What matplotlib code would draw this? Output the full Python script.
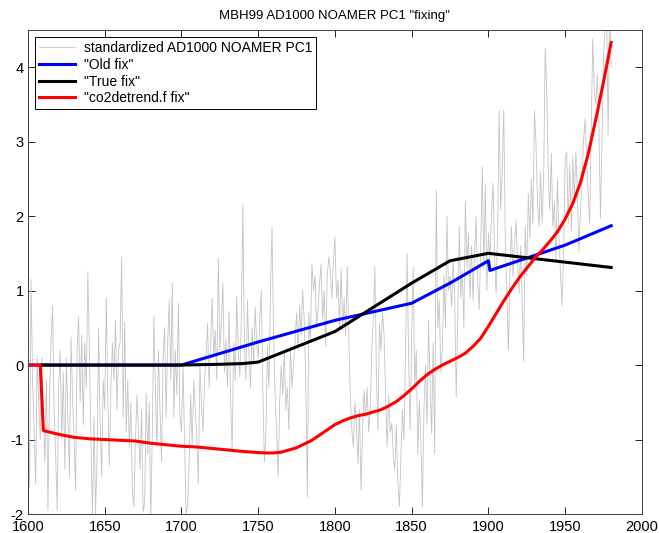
import numpy as np
import matplotlib
matplotlib.use('Agg')
import matplotlib.pyplot as plt

plt.rcParams['font.family'] = ['Liberation Sans', 'DejaVu Sans']
plt.rcParams['font.size'] = 10
plt.rcParams['axes.unicode_minus'] = False

# standardized AD1000 NOAMER PC1, yearly 1600-1980
pc1_years = np.arange(1600, 1981)
pc1 = [
    -0.5, -1.64, 1.15, -0.2, -0.9, -1.6, 0.1, -0.5, -1.0, 0.1,
    -0.6, -1.3, -0.2, -1.95, -0.4, 0.3, 0.8, -0.6, -1.2, -1.95,
    -0.3, 0.2, -1.0, -0.1, -1.4, 0.1, -0.7, -1.5, 0.38, -0.4,
    -1.0, -1.68, 0.2, 0.65, -0.5, 0.4, -0.8, 0.3, -0.3, 1.25,
    0.2, -1.0, -2.0, -0.7, -2.0, -1.2, 0.5, -0.8, -1.5, -0.2,
    -0.6, 0.9, -0.5, -1.36, -0.3, 0.3, -0.2, 0.6, -0.6, 0.2,
    0.3, 1.45, -0.7, 0.58, -0.9, -0.2, -1.1, -0.5, -1.68, -1.9,
    -1.0, -0.4, -0.9, -1.4, -0.6, -1.97, -1.85, -0.38, -1.2, -0.5,
    -2.08, -0.9, 0.65, -0.3, -1.1, 0.2, -0.6, -1.3, 0.1, 0.5,
    -0.7, 0.3, 0.87, -0.2, 1.1, -0.7, 0.2, -0.4, 0.83, -0.7,
    -0.9, 0.0, -1.0, -2.0, -1.9, -1.3, -0.4, -1.1, -0.2, -0.6,
    -1.0, -1.59, 0.0, -0.5, -0.9, -0.2, 0.1, 0.56, -0.3, 0.3,
    0.9, 0.1, 0.47, -0.2, 1.43, 0.2, 0.56, 1.1, -0.1, 0.34,
    -0.3, 0.72, -0.4, -1.14, 0.3, -0.2, 0.92, 0.2, -0.16, 0.6,
    2.15, 0.3, -0.2, 0.87, 0.1, -0.3, 0.5, 0.0, 0.78, 0.3,
    0.1, 0.6, 1.0, -0.3, -1.3, -0.9, 0.25, -0.3, 1.0, 1.85,
    0.4, -0.4, -0.9, -1.5, -0.5, 0.0, -0.4, 0.2, -0.6, -0.3,
    -0.87, 0.25, -0.3, 0.0, 0.3, 0.7, 0.2, 0.8, 0.4, 1.0,
    0.6, -0.2, -1.77, 0.7, 0.3, 1.36, 1.0, 1.2, 0.5, 0.74,
    1.1, 1.36, 0.6, 1.0, 0.25, 1.2, 1.45, 1.27, 0.9, 1.4,
    1.72, 0.9, 1.14, 0.5, 1.3, 0.47, 0.9, 0.4, 1.32, 0.4,
    -0.4, -0.87, -1.1, -0.5, -0.8, -1.32, -0.6, -1.68, -0.9, -0.34,
    -0.7, -0.3, -0.9, -0.6, 0.2, 0.6, 1.32, -0.1, -0.87, 0.56,
    0.2, 0.7, 0.4, -0.4, -1.1, -0.4, -0.9, -0.78, -1.2, -1.4,
    -0.8, -1.6, -1.9, -1.2, -0.6, -1.0, 0.2, 1.5, 0.1, -0.87,
    0.4, 1.32, -0.3, 0.2, -1.2, -0.47, -1.0, -1.9, -0.6, 0.0,
    -0.8, 0.6, -0.25, -0.92, 0.3, -1.19, 2.35, 0.5, 0.87, -0.1,
    0.2, 1.2, 0.5, 2.0, 1.0, 1.19, 0.78, 1.4, 0.96, -0.43,
    0.6, 1.86, 0.9, 1.27, 0.5, 2.2, 1.3, 1.77, 0.9, 1.6,
    0.87, 1.5, 1.99, 1.1, 0.74, 1.6, 2.66, 1.3, 2.44, 1.0,
    1.77, 1.4, 2.0, 2.44, 1.5, 0.96, 1.8, 3.42, 2.08, 2.6,
    3.42, 1.7, 0.96, 0.2, 1.2, 1.86, 1.19, 1.6, 1.94, 1.41,
    0.96, 1.6, 0.8, 0.05, 1.86, 1.2, 2.3, 1.7, 2.5, 1.9,
    3.42, 2.98, 2.2, 1.86, 2.6, 1.9, 2.5, 4.25, 3.7, 2.6,
    2.08, 2.84, 1.86, 2.2, 1.41, 2.5, 1.7, 1.2, 0.8, 1.5,
    2.75, 2.86, 1.9, 2.7, 1.8, 2.8, 2.2, 2.86, 2.3, 1.52,
    2.1, 2.5, 3.0, 3.31, 2.8, 2.3, 1.9, 3.2, 4.38, 3.67,
    3.5, 3.9, 3.22, 1.97, 3.0, 4.16, 4.5, 4.8, 3.09, 4.7,
    4.0,
]

# "Old fix"
old_years = [1600, 1700, 1750, 1800, 1850, 1875, 1900, 1901, 1950, 1980]
old_fix = [0, 0, 0.31, 0.6, 0.83, 1.1, 1.40, 1.27, 1.61, 1.87]

# "True fix"
true_years = [1609, 1700, 1725, 1740, 1750, 1800, 1850, 1875, 1900, 1980]
true_fix = [0, 0, 0.01, 0.02, 0.04, 0.45, 1.1, 1.40, 1.50, 1.31]

# "co2detrend.f fix"
co2_years = [1600, 1608, 1610, 1620, 1630, 1640, 1650, 1660, 1670, 1680,
             1690, 1700, 1710, 1720, 1730, 1740, 1750, 1755, 1760, 1765,
             1770, 1775, 1780, 1785, 1790, 1795, 1800, 1805, 1810, 1815,
             1820, 1825, 1830, 1835, 1840, 1845, 1850, 1855, 1860, 1865,
             1870, 1875, 1880, 1885, 1890, 1895, 1900, 1905, 1910, 1915,
             1920, 1925, 1930, 1935, 1940, 1945, 1950, 1955, 1960, 1965,
             1970, 1975, 1980]
co2_fix = [0, 0, -0.88, -0.93, -0.97, -0.99, -1.0, -1.01, -1.02, -1.05,
           -1.07, -1.09, -1.10, -1.12, -1.14, -1.16, -1.175, -1.18, -1.18, -1.17,
           -1.14, -1.11, -1.06, -1.01, -0.94, -0.87, -0.80, -0.75, -0.71, -0.68,
           -0.66, -0.63, -0.60, -0.55, -0.49, -0.41, -0.32, -0.22, -0.13, -0.06,
           0.0, 0.05, 0.10, 0.16, 0.25, 0.36, 0.52, 0.69, 0.86, 1.02,
           1.17, 1.30, 1.43, 1.54, 1.66, 1.79, 1.96, 2.17, 2.45, 2.83,
           3.30, 3.80, 4.33]

fig = plt.figure(figsize=(6.59, 5.33), dpi=100)
ax = fig.add_axes([0.0425, 0.0356, 0.9315, 0.9084])

ax.plot(pc1_years, pc1, color='#c4c4c4', lw=0.6, label='standardized AD1000 NOAMER PC1')
ax.plot(old_years, old_fix, color='blue', lw=2.2, label='"Old fix"')
ax.plot(true_years, true_fix, color='black', lw=2.2, label='"True fix"')
ax.plot(co2_years, co2_fix, color='red', lw=2.2, label='"co2detrend.f fix"')

ax.set_xlim(1600, 2000)
ax.set_ylim(-2, 4.5)
ax.set_xticks(np.arange(1600, 2001, 50))
ax.set_yticks(np.arange(-2, 5, 1))
ax.tick_params(direction='in', top=True, right=True, length=5, width=0.6, labelsize=10.5)
ax.tick_params(axis='x', pad=4)
ax.tick_params(axis='y', pad=3)
for s in ax.spines.values():
    s.set_linewidth(0.7)
    s.set_color('#404040')

ax.set_title('MBH99 AD1000 NOAMER PC1 "fixing"', fontsize=9.5, pad=8)

leg = ax.legend(loc='upper left', fontsize=10, fancybox=False, framealpha=1,
                edgecolor='black', handlelength=2.6, borderaxespad=0.5,
                labelspacing=0.2, borderpad=0.3, handletextpad=0.6)
leg.get_frame().set_linewidth(0.7)

fig.savefig('out.png', dpi=100)
